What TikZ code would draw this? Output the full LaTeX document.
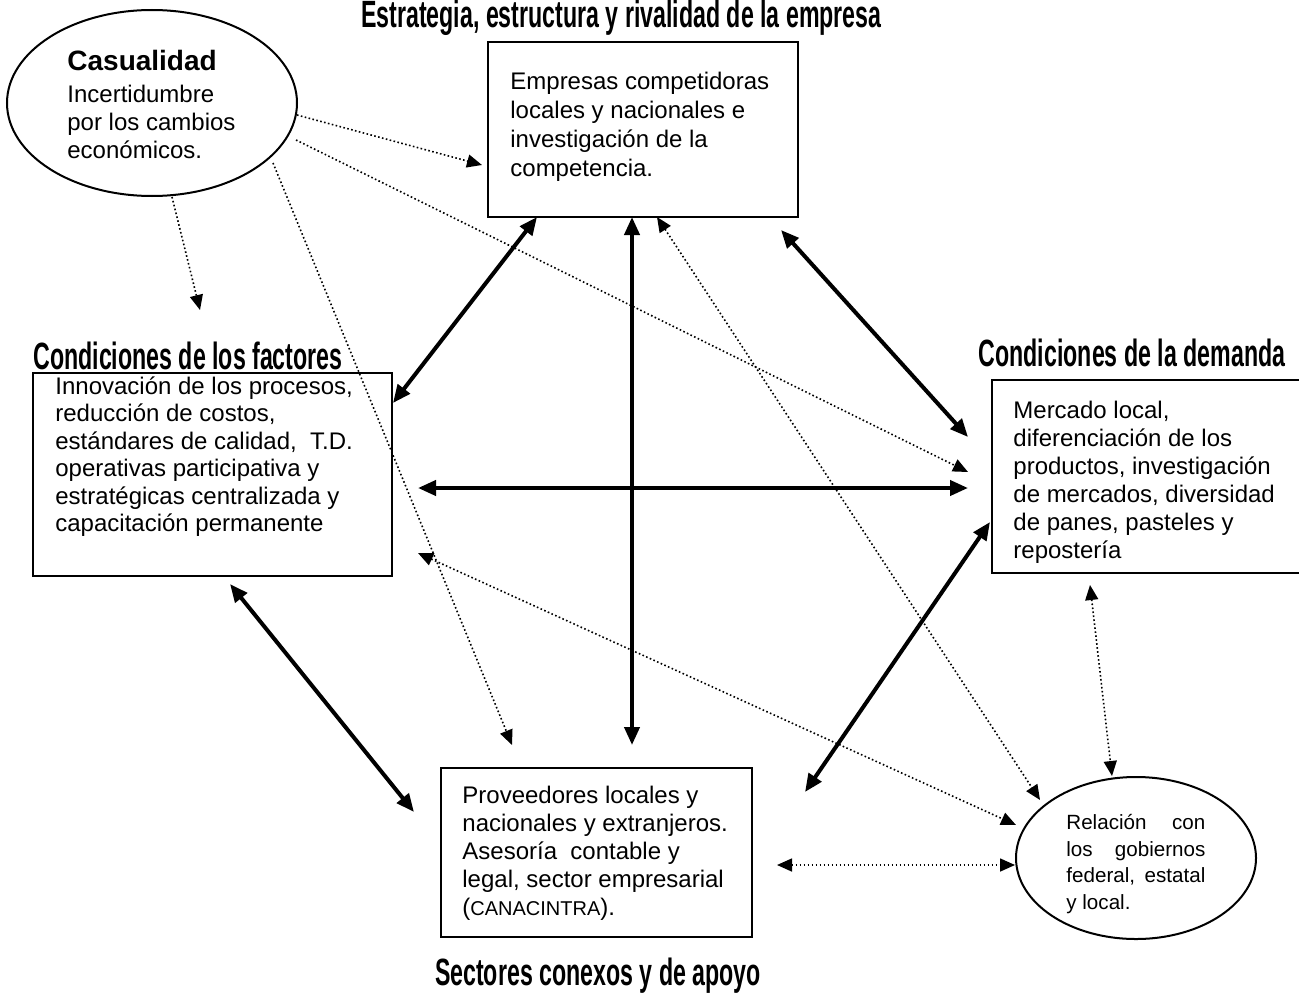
\documentclass[tikz,border=0pt]{standalone}
\usepackage{fontspec}
\setmainfont{Liberation Sans}
\newfontfamily\headfont[FakeStretch=0.61]{Liberation Sans Bold}
\usetikzlibrary{arrows.meta,shapes.geometric}

\begin{document}
\begin{tikzpicture}[x=0.5pt,y=-0.5pt,
  box/.style={draw,line width=1pt,inner sep=0pt},
  oval/.style={draw,ellipse,line width=1pt,inner sep=0pt},
  body/.style={anchor=north west,align=left,inner sep=0pt,
    font=\fontsize{12}{14}\selectfont},
  heading/.style={inner sep=0pt,font=\headfont\fontsize{19}{22}\selectfont},
  strong/.style={line width=2pt,
    {Triangle[length=9pt,width=7.5pt]}-{Triangle[length=9pt,width=7.5pt]}},
  dots/.style={line width=0.8pt,dash pattern=on 0.8pt off 1.2pt,
    -{Triangle[length=7.5pt,width=6.5pt]}},
  dotsboth/.style={dots,
    {Triangle[length=7.5pt,width=6.5pt]}-{Triangle[length=7.5pt,width=6.5pt]}},
]
\useasboundingbox (0,0) rectangle (1299,1006);

% headings of the four determinants
\node[heading,anchor=east] (hstrat) at (882,18) {Estrategia, estructura y rivalidad de la empresa};
\node[heading] (hfact) at (188,356) {Condiciones de los factores};
\node[heading] (hdem) at (1132,353) {Condiciones de la demanda};
\node[heading] (hsect) at (598,976) {Sectores conexos y de apoyo};

% boxes
\node[box,minimum width=155pt,minimum height=87.5pt] (strat) at (643,129.5) {};
\node[box,minimum width=179.5pt,minimum height=101.5pt] (fact) at (212.5,474.5) {};
\node[box,minimum width=157pt,minimum height=96.5pt] (dem) at (1149,476.5) {};
\node[box,minimum width=155.5pt,minimum height=84.5pt] (sect) at (596.5,852.5) {};

% ellipses
\node[oval,minimum width=145pt,minimum height=93pt] (cas) at (152,103) {};
\node[oval,minimum width=120pt,minimum height=81pt] (gov) at (1136,858) {};

% texts
\node[anchor=north west,inner sep=0pt,align=left,font=\fontsize{12}{14}\selectfont] (tcas) at (67,50)
  {{\fontsize{14}{16.5}\selectfont\bfseries Casualidad}\\[2pt]Incertidumbre\\por los cambios\\económicos.};
\node[body,font=\fontsize{12}{14.5}\selectfont] (tstrat) at (510,72)
  {Empresas competidoras\\locales y nacionales e\\investigación de la\\competencia.};
\node[body,font=\fontsize{12}{13.75}\selectfont] (tfact) at (55,376)
  {Innovación de los procesos,\\reducción de costos,\\estándares de calidad,\ \ T.D.\\operativas participativa y\\estratégicas centralizada y\\capacitación permanente};
\node[body] (tdem) at (1013,401)
  {Mercado local,\\diferenciación de los\\productos, investigación\\de mercados, diversidad\\de panes, pasteles y\\repostería};
\node[body] (tsect) at (462,786)
  {Proveedores locales y\\nacionales y extranjeros.\\Asesoría\ \ contable y\\legal, sector empresarial\\({\fontsize{10}{14}\selectfont CANACINTRA}).};
\node[anchor=north west,inner sep=0pt,align=left,font=\fontsize{10.3}{13.3}\selectfont] (tgov) at (1066,814)
  {\hbox to 69.5pt{Relación\hfill con}\\\hbox to 69.5pt{los\hfill gobiernos}\\\hbox to 69.5pt{federal,\hfill estatal}\\y local.};

% free ends of the connectors
\coordinate (s1) at (537,217);  \coordinate (f1) at (393,403);
\coordinate (s2) at (632,217);  \coordinate (k2) at (632,745);
\coordinate (s3) at (781,230);  \coordinate (d3) at (968,437);
\coordinate (f4) at (418,488);  \coordinate (d4) at (968,488);
\coordinate (f5) at (230,584);  \coordinate (k5) at (414,812);
\coordinate (d6) at (990,522);  \coordinate (k6) at (805,792);

\coordinate (c1) at (297,115);  \coordinate (s7) at (482,165);
\coordinate (c2) at (296,140);  \coordinate (d8) at (968,472);
\coordinate (c3) at (172,197);  \coordinate (h9) at (200,310);
\coordinate (c4) at (273,163);  \coordinate (k10) at (512,745);
\coordinate (s11) at (657,217); \coordinate (g11) at (1040,800);
\coordinate (f12) at (418,553); \coordinate (g12) at (1016,825);
\coordinate (d13) at (1090,585);\coordinate (g13) at (1112,776);
\coordinate (k14) at (777,865); \coordinate (g14) at (1015,865);

% strong two-way links between the determinants
\draw[strong] (s1) -- (f1);
\draw[strong] (s2) -- (k2);
\draw[strong] (s3) -- (d3);
\draw[strong] (f4) -- (d4);
\draw[strong] (f5) -- (k5);
\draw[strong] (d6) -- (k6);

% influence of chance
\draw[dots] (c1) -- (s7);
\draw[dots] (c2) -- (d8);
\draw[dots] (c3) -- (h9);
\draw[dots] (c4) -- (k10);

% links with government
\draw[dotsboth] (s11) -- (g11);
\draw[dotsboth] (f12) -- (g12);
\draw[dotsboth] (d13) -- (g13);
\draw[dotsboth] (k14) -- (g14);
\end{tikzpicture}
\end{document}
